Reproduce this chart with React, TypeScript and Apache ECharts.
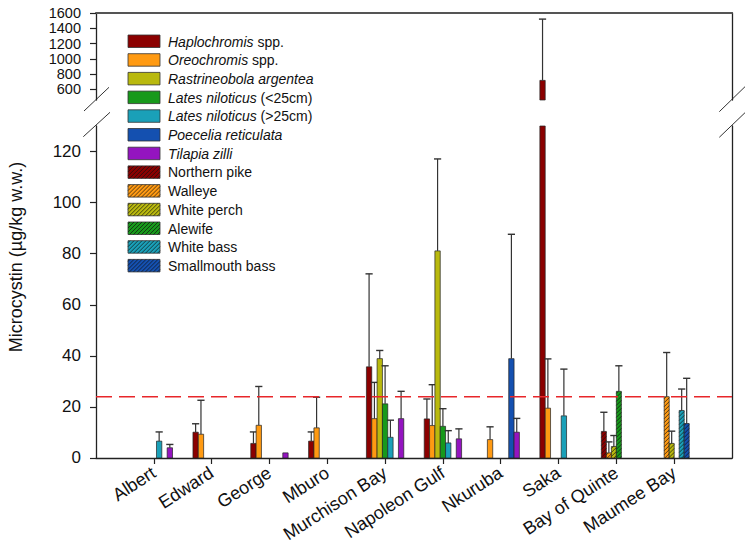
import React, { useEffect, useRef } from 'react';
import * as echarts from 'echarts';

const sites = ['Albert', 'Edward', 'George', 'Mburo', 'Murchison Bay', 'Napoleon Gulf', 'Nkuruba', 'Saka', 'Bay of Quinte', 'Maumee Bay'];
const siteTicks = [1, 2, 3, 4, 5, 6, 7, 8, 9, 10];
const lowerTicks = [0, 20, 40, 60, 80, 100, 120];
const upperTicks = [600, 800, 1000, 1200, 1400, 1600];
const upperLabelsA = [600, 1000, 1400];
const upperLabelsB = [800, 1200, 1600];
const guideline = 24;

// African species (means and upper error)
const haplochromis = [null, 10.1, 5.7, 6.6, 35.7, 15.3, null, 717, null, null];
const haplochromisErr = [null, 3.3, 4.5, 3.6, 36.4, 7.8, null, 803, null, null];
const oreochromis = [null, 9.3, 12.8, 11.8, 15.4, 12.7, 7.2, 19.5, null, null];
const oreochromisErr = [null, 13.3, 15.2, 12.0, 14.2, 16.0, 5.0, 19.3, null, null];
const rastrineobola = [null, null, null, null, 38.9, 81.1, null, null, null, null];
const rastrineobolaErr = [null, null, null, null, 3.2, 36.0, null, null, null, null];
const latesSmall = [null, null, null, null, 21.2, 12.4, null, null, null, null];
const latesSmallErr = [null, null, null, null, 14.9, 6.9, null, null, null, null];
const latesLarge = [6.6, null, null, null, 8.1, 5.9, null, 16.5, null, null];
const latesLargeErr = [3.6, null, null, null, 6.7, 4.8, null, 18.3, null, null];
const poecelia = [null, null, null, null, null, null, 38.9, null, null, null];
const poeceliaErr = [null, null, null, null, null, null, 48.7, null, null, null];
const tilapia = [4.0, null, 2.0, null, 15.4, 7.5, 10.1, null, null, null];
const tilapiaErr = [1.3, null, 0, null, 10.7, 3.9, 5.4, null, null, null];

// Great Lakes species
const northernPike = [null, null, null, null, null, null, null, null, 10.4, null];
const northernPikeErr = [null, null, null, null, null, null, null, null, 7.5, null];
const walleye = [null, null, null, null, null, null, null, null, 2.0, 24.0];
const walleyeErr = [null, null, null, null, null, null, null, null, 4.3, 17.3];
const whitePerch = [null, null, null, null, null, null, null, null, 4.5, 5.7];
const whitePerchErr = [null, null, null, null, null, null, null, null, 4.3, 4.8];
const alewife = [null, null, null, null, null, null, null, null, 26.1, null];
const alewifeErr = [null, null, null, null, null, null, null, null, 10.0, null];
const whiteBass = [null, null, null, null, null, null, null, null, null, 18.6];
const whiteBassErr = [null, null, null, null, null, null, null, null, null, 8.4];
const smallmouth = [null, null, null, null, null, null, null, null, null, 13.5];
const smallmouthErr = [null, null, null, null, null, null, null, null, null, 17.7];

const speciesNames = ['Haplochromis spp.', 'Oreochromis spp.', 'Rastrineobola argentea', 'Lates niloticus (<25cm)', 'Lates niloticus (>25cm)', 'Poecelia reticulata', 'Tilapia zilli', 'Northern pike', 'Walleye', 'White perch', 'Alewife', 'White bass', 'Smallmouth bass'];
const italicParts = ['Haplochromis', 'Oreochromis', 'Rastrineobola argentea', 'Lates niloticus', 'Lates niloticus', 'Poecelia reticulata', 'Tilapia zilli', '', '', '', '', '', ''];
const speciesValues = [haplochromis, oreochromis, rastrineobola, latesSmall, latesLarge, poecelia, tilapia, northernPike, walleye, whitePerch, alewife, whiteBass, smallmouth];
const speciesErrors = [haplochromisErr, oreochromisErr, rastrineobolaErr, latesSmallErr, latesLargeErr, poeceliaErr, tilapiaErr, northernPikeErr, walleyeErr, whitePerchErr, alewifeErr, whiteBassErr, smallmouthErr];
const colors = ['#8b0000', '#ff9a12', '#b9b90e', '#17991b', '#1aa0b8', '#1450b0', '#9414c0', '#8b0000', '#ff9a12', '#b9b90e', '#17991b', '#1aa0b8', '#1450b0'];

const FONT = '"Liberation Sans", Arial, sans-serif';
const AF_SLOTS = 7;
const AF_W = 0.0923;
const GL_SLOTS = 6;
const GL_W = 0.0865;

function hatch(x0: number, y0: number, w: number, h: number, step: number) {
  const out: any[] = [];
  for (let c = x0 + y0 + step / 2; c < x0 + w + y0 + h; c += step) {
    const xa = Math.max(x0, c - y0 - h);
    const xb = Math.min(x0 + w, c - y0);
    if (xb <= xa) continue;
    out.push({ type: 'line', shape: { x1: xa, y1: c - xa, x2: xb, y2: c - xb }, style: { stroke: '#111', lineWidth: 0.7 } });
  }
  return out;
}

function makeRender(slot: number, nSlots: number, slotW: number, color: string, hatched: boolean) {
  return (params: any, api: any) => {
    const cat = api.value(0);
    const v = api.value(1);
    const e = api.value(2);
    const cs = params.coordSys;
    const top = cs.y;
    const bottom = cs.y + cs.height;
    const left = cat - (nSlots * slotW) / 2 + slot * slotW;
    const pa = api.coord([left, v]);
    const pb = api.coord([left + slotW, 0]);
    const x0 = pa[0];
    const x1 = pb[0];
    let yTop = pa[1];
    const yBot = Math.min(pb[1], bottom);
    const clipped = yTop < top;
    if (clipped) yTop = top;
    if (yTop >= yBot - 0.01) return null;
    const children: any[] = [
      { type: 'rect', shape: { x: x0, y: yTop, width: x1 - x0, height: yBot - yTop }, style: { fill: color, stroke: '#222', lineWidth: 0.7 } },
    ];
    if (hatched) children.push(...hatch(x0, yTop, x1 - x0, yBot - yTop, 4));
    if (!clipped && e > 0) {
      const ye = api.coord([left, v + e])[1];
      if (ye >= top - 0.5) {
        const xc = (x0 + x1) / 2;
        children.push({ type: 'line', shape: { x1: xc, y1: yTop, x2: xc, y2: ye }, style: { stroke: '#333', lineWidth: 1.2 } });
        children.push({ type: 'line', shape: { x1: xc - 3.6, y1: ye, x2: xc + 3.6, y2: ye }, style: { stroke: '#333', lineWidth: 1.4 } });
      }
    }
    return { type: 'group', children };
  };
}

function buildOption() {
  const series: any[] = [];
  speciesNames.forEach((name, i) => {
    const african = i < 7;
    const slot = african ? i : i - 7;
    const data: any[] = [];
    speciesValues[i].forEach((val, k) => {
      if (val !== null) data.push([k + 1, val, speciesErrors[i][k] ?? 0]);
    });
    const grids = african ? [1, 0] : [1];
    grids.forEach((g) => {
      series.push({
        type: 'custom',
        name: name,
        coordinateSystem: 'cartesian2d',
        xAxisIndex: g,
        yAxisIndex: g,
        clip: false,
        silent: true,
        encode: { x: 0, y: 1 },
        renderItem: makeRender(slot, african ? AF_SLOTS : GL_SLOTS, african ? AF_W : GL_W, colors[i], !african),
        data,
      });
    });
  });
  series.push({
    type: 'line',
    xAxisIndex: 1,
    yAxisIndex: 1,
    data: [[0, guideline], [11, guideline]],
    symbol: 'none',
    silent: true,
    z: 5,
    lineStyle: { color: '#e8262a', width: 1.6, type: [16, 7] },
  });

  const legendChildren: any[] = [];
  speciesNames.forEach((name, i) => {
    const y = i * 18.7;
    legendChildren.push({ type: 'rect', shape: { x: 0, y, width: 32, height: 12.5 }, style: { fill: colors[i], stroke: '#333', lineWidth: 0.8 } });
    if (i >= 7) legendChildren.push(...hatch(0, y, 32, 12.5, 4));
    const it = italicParts[i];
    const text = it ? `{i|${it}}${name.slice(it.length)}` : name;
    legendChildren.push({
      type: 'text',
      x: 40,
      y: y + 6.5,
      style: { text, fontSize: 14, fontFamily: FONT, fill: '#111', verticalAlign: 'middle', align: 'left', rich: { i: { fontStyle: 'italic', fontSize: 14, fontFamily: FONT, fill: '#111' } } },
    });
  });

  const breakStyle = { stroke: '#333', lineWidth: 1 };
  const axisCol = '#222';
  const fmt = (v: number) => String(v);
  const hidden = { axisTick: { show: false }, axisLabel: { show: false }, splitLine: { show: false } };

  return {
    animation: false,
    backgroundColor: '#fff',
    textStyle: { fontFamily: FONT },
    grid: [
      { left: 96, right: 21, top: 13, height: 87 },
      { left: 96, right: 21, top: 126, height: 332.5 },
    ],
    xAxis: [
      {
        gridIndex: 0, type: 'value', min: 0, max: 11, position: 'top',
        axisLine: { show: true, onZero: false, lineStyle: { color: '#555', width: 2 } },
        ...hidden,
      },
      {
        gridIndex: 1, type: 'value', min: 0, max: 11, position: 'bottom',
        axisLine: { show: true, onZero: false, lineStyle: { color: axisCol, width: 1.3 } },
        axisTick: { show: true, customValues: siteTicks, length: 6, lineStyle: { color: axisCol, width: 1.2 } },
        axisLabel: { customValues: siteTicks, formatter: (v: number) => sites[v - 1] ?? '', rotate: 33, fontSize: 18, color: '#111', margin: 13, hideOverlap: false },
        splitLine: { show: false },
      },
    ],
    yAxis: [
      {
        gridIndex: 0, type: 'value', min: 460, max: 1600, position: 'left',
        axisLine: { show: true, onZero: false, lineStyle: { color: axisCol, width: 1.3 } },
        axisTick: { show: true, customValues: upperTicks, length: 6, lineStyle: { color: axisCol, width: 1.2 } },
        axisLabel: { customValues: upperLabelsA, formatter: fmt, fontSize: 14.5, lineHeight: 14, color: '#111', margin: 15, showMinLabel: true, showMaxLabel: true },
        splitLine: { show: false },
      },
      {
        gridIndex: 1, type: 'value', min: 0, max: 130, position: 'left',
        axisLine: { show: true, onZero: false, lineStyle: { color: axisCol, width: 1.3 } },
        axisTick: { show: true, customValues: lowerTicks, length: 6, lineStyle: { color: axisCol, width: 1.2 } },
        axisLabel: { customValues: lowerTicks, formatter: fmt, fontSize: 17, color: '#111', margin: 15, showMinLabel: true },
        splitLine: { show: false },
      },
      {
        gridIndex: 0, type: 'value', min: 460, max: 1600, position: 'right',
        axisLine: { show: true, onZero: false, lineStyle: { color: axisCol, width: 1.3 } },
        ...hidden,
      },
      {
        gridIndex: 1, type: 'value', min: 0, max: 130, position: 'right',
        axisLine: { show: true, onZero: false, lineStyle: { color: axisCol, width: 1.3 } },
        ...hidden,
      },
      {
        gridIndex: 0, type: 'value', min: 460, max: 1600, position: 'left', offset: 0,
        axisLine: { show: false, onZero: false },
        axisTick: { show: false },
        axisLabel: { customValues: upperLabelsB, formatter: fmt, fontSize: 14.5, lineHeight: 14, color: '#111', margin: 15, showMinLabel: true, showMaxLabel: true },
        splitLine: { show: false },
      },
    ],
    graphic: [
      { type: 'group', x: 128, y: 35, silent: true, children: legendChildren },
      { type: 'line', silent: true, shape: { x1: 84, y1: 111, x2: 109, y2: 87.3 }, style: breakStyle },
      { type: 'line', silent: true, shape: { x1: 83.3, y1: 136.7, x2: 110, y2: 112.3 }, style: breakStyle },
      { type: 'line', silent: true, shape: { x1: 719.3, y1: 111.7, x2: 745, y2: 86.7 }, style: breakStyle },
      { type: 'line', silent: true, shape: { x1: 719.3, y1: 137.3, x2: 745, y2: 112.7 }, style: breakStyle },
      {
        type: 'text', x: 16, y: 257, rotation: Math.PI / 2, silent: true,
        style: { text: 'Microcystin (µg/kg w.w.)', fontSize: 18, fontFamily: FONT, fill: '#111', align: 'center', verticalAlign: 'middle' },
      },
    ],
    series,
  };
}

export default function App() {
  const ref = useRef<HTMLDivElement>(null);
  useEffect(() => {
    const chart = echarts.init(ref.current as HTMLDivElement, null, { renderer: 'svg' });
    chart.setOption(buildOption() as any);
    return () => chart.dispose();
  }, []);
  return <div ref={ref} style={{ position: 'fixed', left: 0, top: 0, width: 753, height: 545, background: '#fff' }} />;
}
